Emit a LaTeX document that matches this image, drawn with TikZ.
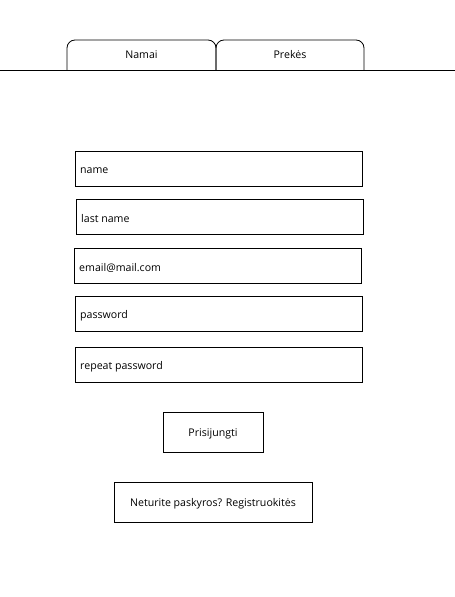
\documentclass[tikz,border=0pt]{standalone}
\usepackage{fontspec}
\setmainfont{Open Sans}
\begin{document}
\begin{tikzpicture}[x=1pt,y=-1pt,
  field/.style={draw,line width=0.8pt},
  ftext/.style={anchor=west,inner sep=0pt,font=\fontsize{10.6}{12}\selectfont},
  ctext/.style={inner sep=0pt,font=\fontsize{10.6}{12}\selectfont},
  tab/.style={draw,line width=0.8pt,rounded corners=8pt}]
\useasboundingbox (0,0) rectangle (455,597);
% tabs
\draw[tab] (67,70) -- (67,40) -- (216,40) -- (216,70);
\draw[tab] (216,70) -- (216,40) -- (364,40) -- (364,70);
\draw[line width=0.8pt] (0,70) -- (455,70);
\node[ctext] (namai) at (141.5,55) {Namai};
\node[ctext] (prekes) at (290,55) {Prekės};
% fields
\draw[field] (75,151) rectangle (362,186);
\node[ftext] (name) at (80,170.5) {name};
\draw[field] (76,199) rectangle (363,234);
\node[ftext] (lname) at (81,218.5) {last name};
\draw[field] (74,248) rectangle (361,283);
\node[ftext] (email) at (79,267.5) {email@mail.com};
\draw[field] (75,296) rectangle (362,331);
\node[ftext] (pass) at (80,315.5) {password};
\draw[field] (75,347) rectangle (362,382);
\node[ftext] (rpass) at (80,366.5) {repeat password};
% buttons
\draw[field] (163,412) rectangle (263,452);
\node[ctext] (login) at (213,434) {Prisijungti};
\draw[field] (114,482) rectangle (312,522);
\node[ctext] (reg) at (213,504) {Neturite paskyros? Registruokitės};
\end{tikzpicture}
\end{document}
